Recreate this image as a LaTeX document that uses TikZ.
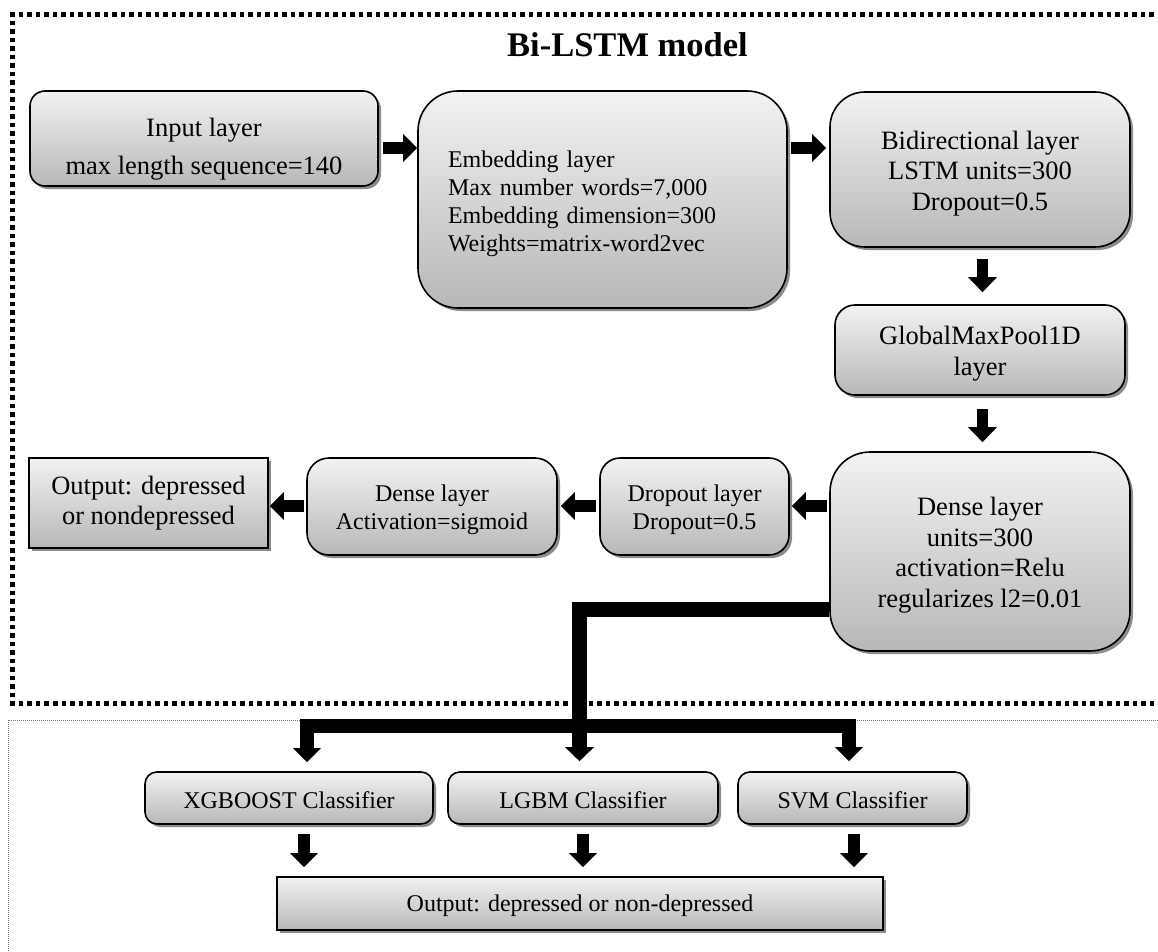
\documentclass[tikz,border=0pt]{standalone}
\usepackage{fontspec}
\setmainfont{Liberation Serif}
\usetikzlibrary{arrows.meta,shadows,calc}
\newcommand\fbig{\fontsize{26.5}{30.5}\selectfont}
\newcommand\fmid{\fontsize{24}{28}\selectfont}
\newcommand\ftitle{\fontsize{34.5}{38}\selectfont\bfseries}
\newcommand\upr[1]{\rule{0pt}{#1pt}}
\tikzset{
  box/.style={draw=black, line width=1.6pt, top color=black!5, bottom color=black!28,
    drop shadow={shadow xshift=3pt, shadow yshift=-3pt, fill=black!45, opacity=1},
    inner sep=0pt, align=center, font=\fbig},
  blk/.style={line width=12pt, -{Triangle[width=27pt,length=14pt]}},
  blkv/.style={line width=11pt, -{Triangle[width=28pt,length=15pt]}},
  bar/.style={line width=14pt, line join=miter, -{Triangle[width=27pt,length=14pt]}},
  frame/.style={line width=5pt, dash pattern=on 4.5pt off 4pt},
  thinframe/.style={black!55, line width=0.8pt, dash pattern=on 1pt off 1pt}
}
\begin{document}
\begin{tikzpicture}[x=1pt,y=-1pt]
\fill[white] (0,0) rectangle (1158,952);
\useasboundingbox (0,0) rectangle (1158,952);

% frames
\draw[thinframe] (1162,720) -- (8,720) -- (8,956);
\draw[frame] (1162,14.5) -- (12.5,14.5) -- (12.5,703) -- (1162,703);

\node[font=\ftitle, anchor=base west, inner sep=0pt] (title) at (507,56.5) {Bi-LSTM model};

% nodes
\node[box, rounded corners=15pt, minimum width=348pt, minimum height=95pt] (inp) at (204,138.5)
  {\upr{40}Input layer\\[8pt]max length sequence=140};
\node[box, rounded corners=40pt, minimum width=369pt, minimum height=217pt, align=left,
  text width=309pt, inner xsep=30pt, font=\fmid] (emb) at (602.5,199.5)
  {\upr{24.5}Embedding layer\\Max number words=7,000\\Embedding dimension=300\\Weights=matrix-word2vec};
\node[box, rounded corners=35pt, minimum width=300pt, minimum height=155pt] (bid) at (980,169.5)
  {\upr{26}Bidirectional layer\\LSTM units=300\\Dropout=0.5};
\node[box, rounded corners=20pt, minimum width=290pt, minimum height=90pt] (gmp) at (980,350)
  {\upr{26}GlobalMaxPool1D\\layer};
\node[box, rounded corners=40pt, minimum width=300pt, minimum height=199pt] (den) at (980,551.5)
  {\upr{26}Dense layer\\units=300\\activation=Relu\\regularizes l2=0.01};
\node[box, rounded corners=20pt, minimum width=189pt, minimum height=97pt, font=\fmid] (drp) at (694.5,506.5)
  {\upr{22.5}Dropout layer\\Dropout=0.5};
\node[box, rounded corners=22pt, minimum width=250pt, minimum height=97pt, font=\fmid] (dsg) at (432,506.5)
  {\upr{22.5}Dense layer\\Activation=sigmoid};
\node[box, minimum width=239pt, minimum height=90pt] (out1) at (148.5,503)
  {Output: depressed\\or nondepressed};

\node[box, rounded corners=12pt, minimum width=288pt, minimum height=52pt, font=\fmid] (xgb) at (289,798)
  {\upr{20.5}XGBOOST Classifier};
\node[box, rounded corners=12pt, minimum width=270pt, minimum height=52pt, font=\fmid] (lgb) at (583,798)
  {\upr{20.5}LGBM Classifier};
\node[box, rounded corners=12pt, minimum width=229pt, minimum height=52pt, font=\fmid] (svm) at (852.5,798)
  {\upr{20.5}SVM Classifier};
\node[box, minimum width=606pt, minimum height=53pt, font=\fmid] (out2) at (580,903.5)
  {\upr{20.5}Output: depressed or non-depressed};

% helper coordinates
\coordinate (r1) at (0,148);
\coordinate (r2) at (0,506);
\coordinate (v1) at (982.5,0);
\coordinate (jx) at (579.5,609.5);
\coordinate (jb) at (579.5,726);
\coordinate (ax) at (307,726);
\coordinate (sx) at (849,726);
\coordinate (bx1) at (304,0);
\coordinate (bx2) at (583,0);
\coordinate (bx3) at (854,0);

% arrows in top row
\draw[blk, shorten <=4pt] (inp.east |- r1) -- (emb.west |- r1);
\draw[blk, shorten <=3pt, shorten >=3pt] (emb.east |- r1) -- (bid.west |- r1);
% vertical arrows right column
\draw[blkv, shorten <=11pt, shorten >=12pt] (v1 |- bid.south) -- (v1 |- gmp.north);
\draw[blkv, shorten <=13pt, shorten >=9pt] (v1 |- gmp.south) -- (v1 |- den.north);
% arrows middle row (right to left)
\draw[blk, shorten <=2pt, shorten >=2pt] (den.west |- r2) -- (drp.east |- r2);
\draw[blk, shorten <=3pt, shorten >=3pt] (drp.west |- r2) -- (dsg.east |- r2);
\draw[blk, shorten <=2pt, shorten >=1pt] (dsg.west |- r2) -- (out1.east |- r2);

% thick connector to the classifiers
\draw[bar, line width=15pt, -{Triangle[width=28pt,length=14pt]}, shorten >=10pt]
  (den.west |- jx) -| (jx |- lgb.north);
\draw[bar, shorten >=9pt] (jb) -| (ax |- xgb.north);
\draw[bar, shorten >=10pt] (jb) -| (sx |- svm.north);

% arrows to final output
\draw[blk, shorten <=9pt, shorten >=9pt] (bx1 |- xgb.south) -- (bx1 |- out2.north);
\draw[blk, shorten <=9pt, shorten >=9pt] (bx2 |- lgb.south) -- (bx2 |- out2.north);
\draw[blk, shorten <=9pt, shorten >=9pt] (bx3 |- svm.south) -- (bx3 |- out2.north);
\end{tikzpicture}
\end{document}
